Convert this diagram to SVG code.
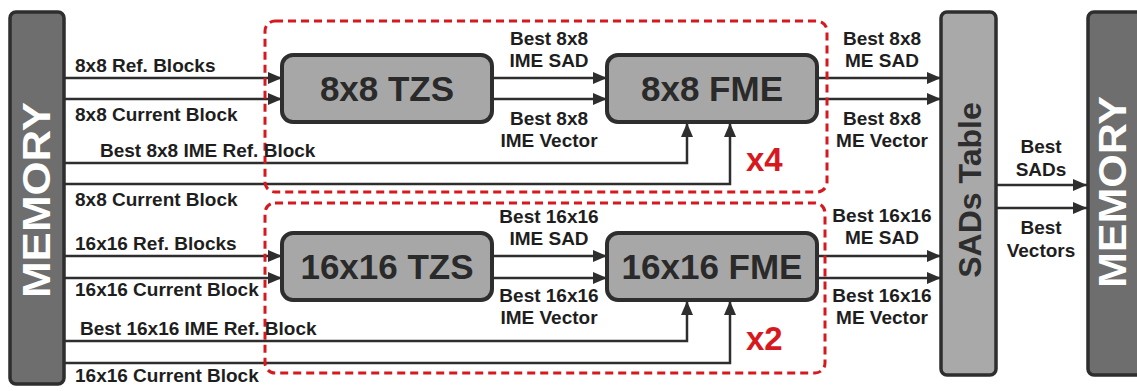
<svg xmlns="http://www.w3.org/2000/svg" width="1137" height="391" viewBox="0 0 1137 391">
<style>
.bg{fill:#ffffff}
.mem{fill:#6e6e6e;stroke:#2e2e2e;stroke-width:3.5}
.blk{fill:#a7a7a7;stroke:#2e2e2e;stroke-width:4}
.sad{fill:#a9a9a9;stroke:#2e2e2e;stroke-width:3.5}
.grp{fill:none;stroke:#d7191f;stroke-width:3;stroke-dasharray:8 5}
.ln{fill:none;stroke:#2e2e2e;stroke-width:2.5}
.lbl{font-family:"Liberation Sans",Arial,sans-serif;font-weight:bold;font-size:19px;fill:#1e1e1e}
.mid{text-anchor:middle}
.big{font-family:"Liberation Sans",Arial,sans-serif;font-weight:bold;font-size:35px;fill:#2a2a2a;text-anchor:middle}
.memt{font-family:"Liberation Sans",Arial,sans-serif;font-weight:bold;font-size:38px;fill:#ffffff;text-anchor:middle}
.sadt{font-family:"Liberation Sans",Arial,sans-serif;font-weight:bold;font-size:32px;fill:#2e2e2e;text-anchor:middle}
.rep{font-family:"Liberation Sans",Arial,sans-serif;font-weight:bold;font-size:33px;fill:#d7191f}
</style>
<defs>
<marker id="ah" viewBox="0 0 14 12" refX="14" refY="6" markerWidth="14" markerHeight="12" markerUnits="userSpaceOnUse" orient="auto">
<path d="M0,0 L14,6 L0,12 z" fill="#2e2e2e"/>
</marker>
</defs>
<rect class="bg" x="0" y="0" width="1137" height="391"/>

<g id="connectors">
<path class="ln" d="M64,78 H282" marker-end="url(#ah)"/>
<path class="ln" d="M64,99 H282" marker-end="url(#ah)"/>
<path class="ln" d="M64,163 H687 V123" marker-end="url(#ah)"/>
<path class="ln" d="M64,184 H730 V123" marker-end="url(#ah)"/>
<path class="ln" d="M492,78 H607" marker-end="url(#ah)"/>
<path class="ln" d="M492,99 H607" marker-end="url(#ah)"/>
<path class="ln" d="M817,78 H941" marker-end="url(#ah)"/>
<path class="ln" d="M817,99 H941" marker-end="url(#ah)"/>

<path class="ln" d="M64,256 H282" marker-end="url(#ah)"/>
<path class="ln" d="M64,278 H282" marker-end="url(#ah)"/>
<path class="ln" d="M64,341 H687 V301" marker-end="url(#ah)"/>
<path class="ln" d="M64,363 H730 V301" marker-end="url(#ah)"/>
<path class="ln" d="M492,256 H607" marker-end="url(#ah)"/>
<path class="ln" d="M492,278 H607" marker-end="url(#ah)"/>
<path class="ln" d="M817,256 H941" marker-end="url(#ah)"/>
<path class="ln" d="M817,278 H941" marker-end="url(#ah)"/>

<path class="ln" d="M996,185 H1087" marker-end="url(#ah)"/>
<path class="ln" d="M996,208 H1087" marker-end="url(#ah)"/>
</g>

<g id="group8x8">
<rect class="grp" x="265" y="21" width="562" height="171" rx="10"/>
<text class="rep" x="746" y="171">x4</text>
</g>
<g id="group16x16">
<rect class="grp" x="265" y="203" width="560" height="170" rx="10"/>
<text class="rep" x="746" y="350">x2</text>
</g>

<g id="memoryLeft">
<rect class="mem" x="10" y="12" width="54" height="372" rx="6"/>
<text class="memt" transform="translate(50,200) rotate(-90)" textLength="196" lengthAdjust="spacingAndGlyphs">MEMORY</text>
</g>
<g id="memoryRight">
<rect class="mem" x="1088" y="12" width="60" height="363" rx="6"/>
<text class="memt" transform="translate(1126,192) rotate(-90)" textLength="192" lengthAdjust="spacingAndGlyphs">MEMORY</text>
</g>
<g id="sadsTable">
<rect class="sad" x="941" y="12" width="55" height="363" rx="6"/>
<text class="sadt" transform="translate(981,190) rotate(-90)">SADs Table</text>
</g>

<g id="tzs8">
<rect class="blk" x="282" y="55" width="210" height="67" rx="11"/>
<text class="big" x="387" y="101">8x8 TZS</text>
</g>
<g id="fme8">
<rect class="blk" x="607" y="55" width="210" height="67" rx="11"/>
<text class="big" x="712" y="101">8x8 FME</text>
</g>
<g id="tzs16">
<rect class="blk" x="282" y="233" width="210" height="67" rx="11"/>
<text class="big" x="387" y="279">16x16 TZS</text>
</g>
<g id="fme16">
<rect class="blk" x="607" y="233" width="210" height="67" rx="11"/>
<text class="big" x="712" y="279">16x16 FME</text>
</g>

<g id="labels">
<text class="lbl" x="75" y="72">8x8 Ref. Blocks</text>
<text class="lbl" x="75" y="121">8x8 Current Block</text>
<text class="lbl" x="100" y="157">Best 8x8 IME Ref. Block</text>
<text class="lbl" x="75" y="206">8x8 Current Block</text>
<text class="lbl" x="75" y="250">16x16 Ref. Blocks</text>
<text class="lbl" x="75" y="296">16x16 Current Block</text>
<text class="lbl" x="80" y="335">Best 16x16 IME Ref. Block</text>
<text class="lbl" x="75" y="382">16x16 Current Block</text>

<text class="lbl mid" x="549" y="45">Best 8x8</text>
<text class="lbl mid" x="549" y="67">IME SAD</text>
<text class="lbl mid" x="549" y="125">Best 8x8</text>
<text class="lbl mid" x="549" y="147">IME Vector</text>
<text class="lbl mid" x="549" y="223">Best 16x16</text>
<text class="lbl mid" x="549" y="245">IME SAD</text>
<text class="lbl mid" x="549" y="302">Best 16x16</text>
<text class="lbl mid" x="549" y="324">IME Vector</text>

<text class="lbl mid" x="882" y="45">Best 8x8</text>
<text class="lbl mid" x="882" y="67">ME SAD</text>
<text class="lbl mid" x="882" y="125">Best 8x8</text>
<text class="lbl mid" x="882" y="147">ME Vector</text>
<text class="lbl mid" x="882" y="222">Best 16x16</text>
<text class="lbl mid" x="882" y="244">ME SAD</text>
<text class="lbl mid" x="882" y="302">Best 16x16</text>
<text class="lbl mid" x="882" y="324">ME Vector</text>

<text class="lbl mid" x="1041" y="153">Best</text>
<text class="lbl mid" x="1041" y="176">SADs</text>
<text class="lbl mid" x="1041" y="234">Best</text>
<text class="lbl mid" x="1041" y="257">Vectors</text>
</g>
</svg>
